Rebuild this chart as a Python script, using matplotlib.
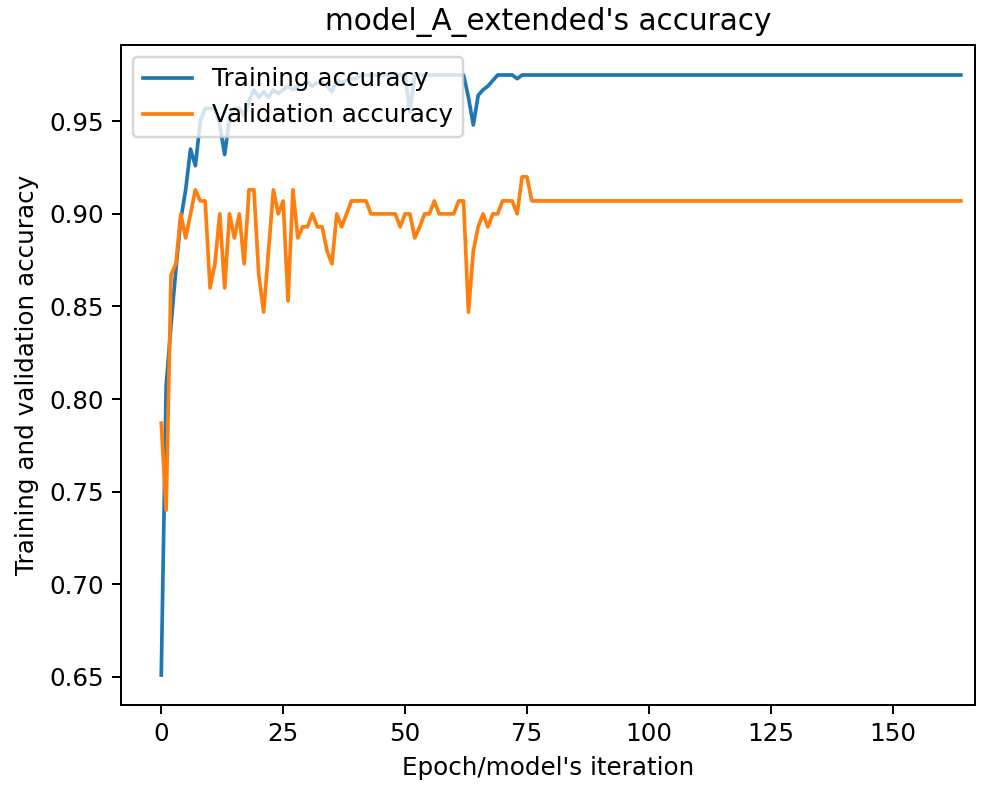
import matplotlib
matplotlib.use("Agg")
import matplotlib.pyplot as plt
from matplotlib.ticker import MultipleLocator

title = "model_A_extended's accuracy"
xlabel = "Epoch/model's iteration"
ylabel = "Training and validation accuracy"
labels = ["Training accuracy", "Validation accuracy"]

train_head = [0.651, 0.807, 0.84, 0.87, 0.897, 0.913, 0.935, 0.926, 0.95, 0.957,
              0.957, 0.957, 0.948, 0.932, 0.952, 0.957, 0.957, 0.953, 0.961, 0.967,
              0.963, 0.966, 0.963, 0.967, 0.965, 0.967, 0.969, 0.967, 0.969, 0.970,
              0.971, 0.969, 0.971, 0.971, 0.969, 0.966, 0.972, 0.971, 0.972, 0.973,
              0.973, 0.975, 0.975, 0.975, 0.975, 0.975, 0.975, 0.975, 0.975, 0.975,
              0.975, 0.955, 0.975, 0.975, 0.975, 0.975, 0.975, 0.975, 0.975, 0.975,
              0.975, 0.975, 0.975, 0.963, 0.948, 0.964, 0.967, 0.969, 0.972, 0.975,
              0.975, 0.975, 0.975, 0.973]
train_tail_value = 0.975

val_head = [0.787, 0.740, 0.867, 0.873, 0.900, 0.887, 0.900, 0.913, 0.907, 0.907,
            0.860, 0.873, 0.900, 0.860, 0.900, 0.887, 0.900, 0.873, 0.913, 0.913,
            0.867, 0.847, 0.880, 0.913, 0.900, 0.907, 0.853, 0.913, 0.887, 0.893,
            0.893, 0.900, 0.893, 0.893, 0.880, 0.873, 0.900, 0.893, 0.900, 0.907,
            0.907, 0.907, 0.907, 0.900, 0.900, 0.900, 0.900, 0.900, 0.900, 0.893,
            0.900, 0.900, 0.887, 0.893, 0.900, 0.900, 0.907, 0.900, 0.900, 0.900,
            0.900, 0.907, 0.907, 0.847, 0.880, 0.893, 0.900, 0.893, 0.900, 0.900,
            0.907, 0.907, 0.907, 0.900, 0.920, 0.920, 0.907]
val_tail_value = 0.907

n_points = 165

train = train_head + [train_tail_value] * (n_points - len(train_head))
val = val_head + [val_tail_value] * (n_points - len(val_head))
epochs = list(range(n_points))

DPI = 177
fig = plt.figure(figsize=(990 / DPI, 785 / DPI), dpi=DPI)
ax = fig.add_axes([121 / 990, 1 - 705 / 785, (975 - 121) / 990, (705 - 45) / 785])
ax.plot(epochs, train, color="#1f77b4", linewidth=1.5, label=labels[0])
ax.plot(epochs, val, color="#ff7f0e", linewidth=1.5, label=labels[1])
ax.set_xlim(-8.26, 166.9)
ax.xaxis.set_major_locator(MultipleLocator(25))
ax.set_title(title)
ax.set_xlabel(xlabel)
ax.set_ylabel(ylabel)
ax.legend(loc="upper left")
fig.savefig("out.png", dpi=DPI)
